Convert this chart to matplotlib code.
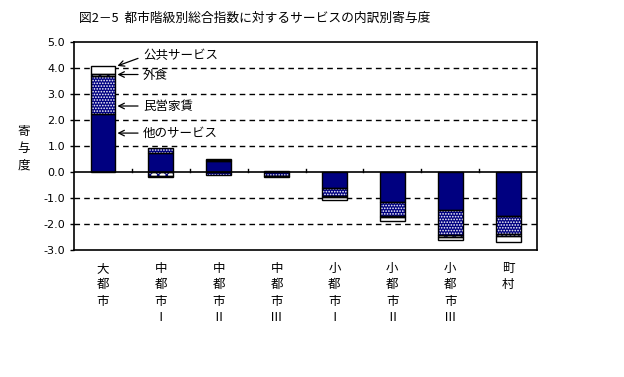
import numpy as np
import matplotlib.pyplot as plt

plt.rcParams['font.family'] = ['Noto Sans CJK JP', 'DejaVu Sans']
plt.rcParams['hatch.linewidth'] = 0.8

# --- data (contribution by item) ---
categories = ['大\n都\n市', '中\n都\n市\nⅠ', '中\n都\n市\nⅡ', '中\n都\n市\nⅢ',
              '小\n都\n市\nⅠ', '小\n都\n市\nⅡ', '小\n都\n市\nⅢ', '町\n村']
other_services = [2.21, 0.71, 0.42, 0.03, -0.62, -1.15, -1.47, -1.70]
private_rent = [1.47, 0.19, -0.12, -0.16, -0.32, -0.56, -0.96, -0.68]
eating_out = [0.08, -0.16, 0.03, -0.01, -0.02, -0.04, -0.09, -0.10]
public_services = [0.31, -0.04, 0.04, -0.03, -0.13, -0.15, -0.11, -0.23]

NAVY = '#000080'
series = [
    ('他のサービス', other_services, NAVY, None, None),
    ('民営家賃', private_rent, NAVY, '......', 'white'),
    ('外食', eating_out, 'white', 'xxxx', NAVY),
    ('公共サービス', public_services, 'white', None, None),
]
BAR_W = 0.43

fig = plt.figure(figsize=(6.24, 3.77), dpi=100)
ax = fig.add_axes([0.1186, 0.3369, 0.742, 0.5525])

x = np.arange(len(categories))
pos_base = np.zeros(len(x))
neg_base = np.zeros(len(x))

for name, vals, fc, hatch, hc in series:
    vals = np.array(vals)
    bottoms = np.where(vals >= 0, pos_base, neg_base)
    if hatch:
        ax.bar(x, vals, BAR_W, bottom=bottoms, color=fc, hatch=hatch,
               edgecolor=hc, linewidth=0, zorder=3)
    else:
        ax.bar(x, vals, BAR_W, bottom=bottoms, color=fc, linewidth=0, zorder=3)
    ax.bar(x, vals, BAR_W, bottom=bottoms, fill=False, edgecolor='black',
           linewidth=1.0, zorder=4)
    pos_base = np.where(vals >= 0, pos_base + vals, pos_base)
    neg_base = np.where(vals < 0, neg_base + vals, neg_base)

ax.set_xlim(-0.5, len(x) - 0.5)
ax.set_ylim(-3.0, 5.0)
yt = np.arange(-3, 5.1, 1.0)
ax.set_yticks(yt)
ax.set_yticklabels([f'{v:.1f}' for v in yt], fontsize=8, family='DejaVu Sans')
ax.tick_params(axis='y', direction='out', length=3, width=1)

for gy in [-2, -1, 1, 2, 3, 4]:
    ax.axhline(gy, color='black', linestyle=(0, (4, 3)), linewidth=1, zorder=1)
ax.axhline(0, color='black', linewidth=1.2, zorder=5)

# category separator ticks on the zero line
for b in np.arange(0.5, len(x) - 0.5, 1.0):
    ax.plot([b, b], [0, 0.12], color='black', linewidth=1, zorder=5)

ax.set_xticks([])
for xi, lab in zip(x, categories):
    ax.text(xi, -3.45, lab, ha='center', va='top', fontsize=9, linespacing=1.35)

for s in ax.spines.values():
    s.set_linewidth(1.2)

# annotations
ann = [
    ('公共サービス', 4.48, (0.606, 4.36), (0.25, 4.07)),
    ('外食', 3.72, (0.606, 3.74), (0.25, 3.74)),
    ('民営家賃', 2.53, (0.606, 2.53), (0.25, 2.53)),
    ('他のサービス', 1.49, (0.606, 1.49), (0.25, 1.49)),
]
for txt, ty, start, end in ann:
    ax.text(0.69, ty, txt, ha='left', va='center', fontsize=9, zorder=6)
    ax.annotate('', xy=end, xytext=start,
                arrowprops=dict(arrowstyle='->', color='black', lw=0.9,
                                shrinkA=0, shrinkB=0), zorder=6)

fig.text(24 / 624, 1 - 148 / 377, '寄\n与\n度', ha='center', va='center',
         fontsize=9, linespacing=1.4)
fig.text(255 / 624, 1 - 18 / 377, '図2－5  都市階級別総合指数に対するサービスの内訳別寄与度',
         ha='center', va='center', fontsize=9.2)

fig.savefig('out.png', dpi=100)
